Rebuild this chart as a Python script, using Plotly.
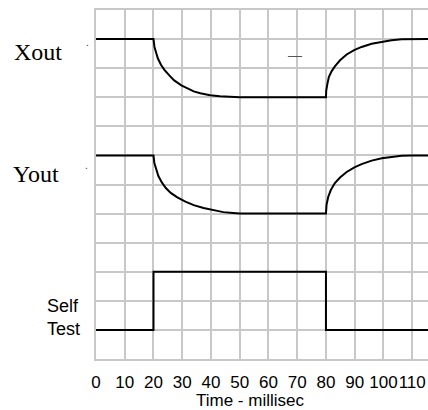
import plotly.graph_objects as go

# ---- data ----
xout_t = [0, 20, 20.34, 20.8, 21.5, 22.6, 23.8, 25.5, 27.2, 29.7, 31.7, 34.0, 36.3, 39.7, 43.1, 46.6, 50,
          80, 80.1, 80.5, 81.0, 82.0, 83.1, 84.9, 87.2, 89.8, 92.4, 95.9, 99.4, 102.8, 106.3, 109.8, 116]
xout_v = [11, 11, 10.73, 10.53, 10.34, 10.12, 9.94, 9.75, 9.58, 9.41, 9.31, 9.20, 9.14, 9.07, 9.035, 9.01, 9.0,
          9.0, 9.23, 9.46, 9.69, 9.90, 10.06, 10.27, 10.47, 10.62, 10.73, 10.84, 10.91, 10.96, 10.99, 11.0, 11.0]

yout_t = [0, 20, 20.3, 20.9, 21.7, 22.9, 24.3, 26.0, 28.3, 31.1, 34.0, 37.4, 40.8, 44.3, 47.7, 50,
          80, 80.2, 80.8, 81.7, 83.1, 84.9, 87.2, 89.9, 92.4, 95.9, 99.4, 102.8, 106.3, 109.8, 116]
yout_v = [7, 7, 6.74, 6.51, 6.29, 6.07, 5.88, 5.71, 5.56, 5.41, 5.29, 5.19, 5.11, 5.05, 5.02, 5.0,
          5.0, 5.3, 5.58, 5.81, 6.05, 6.24, 6.43, 6.59, 6.70, 6.82, 6.90, 6.95, 6.99, 7.0, 7.0]

self_t = [0, 20, 20, 80, 80, 116]
self_v = [1, 1, 3, 3, 1, 1]

x_ticks = [0, 10, 20, 30, 40, 50, 60, 70, 80, 90, 100, 110]
x_tick_labels = ["0", "10", "20", "30", "40", "50", "60", "70", "80", "90", "100", "110"]

# ---- figure ----
W, H = 428, 410
L, R, T, B = 96, 0, 10, 51
pw, ph = W - L - R, H - T - B


def px(x):
    return (x - L) / pw


def py(y):
    return (H - B - y) / ph


fig = go.Figure()
line = dict(color="black", width=2)
fig.add_trace(go.Scatter(x=xout_t, y=xout_v, mode="lines", line=line, hoverinfo="skip"))
fig.add_trace(go.Scatter(x=yout_t, y=yout_v, mode="lines", line=line, hoverinfo="skip"))
fig.add_trace(go.Scatter(x=self_t, y=self_v, mode="lines", line=line, hoverinfo="skip"))

grid = "#c8c8c8"
fig.update_layout(
    width=W, height=H,
    margin=dict(l=L, r=R, t=T, b=B, pad=0, autoexpand=False),
    paper_bgcolor="white", plot_bgcolor="white",
    showlegend=False,
    xaxis=dict(range=[0, 115.5], tickvals=x_ticks, ticktext=x_tick_labels, tickangle=0,
               automargin=False,
               showgrid=True, gridcolor=grid, gridwidth=2, zeroline=False,
               showline=True, linecolor=grid, linewidth=2, mirror=True,
               ticks="outside", ticklen=7, tickcolor="rgba(0,0,0,0)",
               tickfont=dict(family="Liberation Sans, Arial", size=17, color="black"),
               fixedrange=True),
    yaxis=dict(range=[0, 12], dtick=1, tick0=0, showticklabels=False, automargin=False,
               showgrid=True, gridcolor=grid, gridwidth=2, zeroline=False,
               showline=True, linecolor=grid, linewidth=2, mirror=False,
               fixedrange=True),
    annotations=[
        dict(text="Xout", x=px(37.5), y=py(52), xref="paper", yref="paper",
             xanchor="center", yanchor="middle", showarrow=False,
             font=dict(family="Liberation Serif, Times New Roman", size=24, color="black")),
        dict(text="Yout", x=px(36), y=py(174), xref="paper", yref="paper",
             xanchor="center", yanchor="middle", showarrow=False,
             font=dict(family="Liberation Serif, Times New Roman", size=24, color="black")),
        dict(text="Self<br>Test", x=px(45), y=py(317), xref="paper", yref="paper",
             xanchor="left", yanchor="middle", align="left", showarrow=False,
             font=dict(family="Liberation Sans, Arial", size=18, color="black")),
        dict(text="Time - millisec", x=px(249.5), y=py(400), xref="paper", yref="paper",
             xanchor="center", yanchor="middle", showarrow=False,
             font=dict(family="Liberation Sans, Arial", size=17, color="black")),
        dict(text="—", x=px(295), y=py(55), xref="paper", yref="paper",
             xanchor="center", yanchor="middle", showarrow=False,
             font=dict(family="Liberation Sans, Arial", size=14, color="#555555")),
        dict(text=".", x=px(87.5), y=py(42), xref="paper", yref="paper",
             xanchor="center", yanchor="middle", showarrow=False,
             font=dict(family="Liberation Sans, Arial", size=10, color="#333333")),
        dict(text=".", x=px(86), y=py(165), xref="paper", yref="paper",
             xanchor="center", yanchor="middle", showarrow=False,
             font=dict(family="Liberation Sans, Arial", size=10, color="#333333")),
    ],
)

fig.write_html("out.html", config={"displayModeBar": False},
               post_script="document.body.style.margin='0';document.body.style.overflow='hidden';")
